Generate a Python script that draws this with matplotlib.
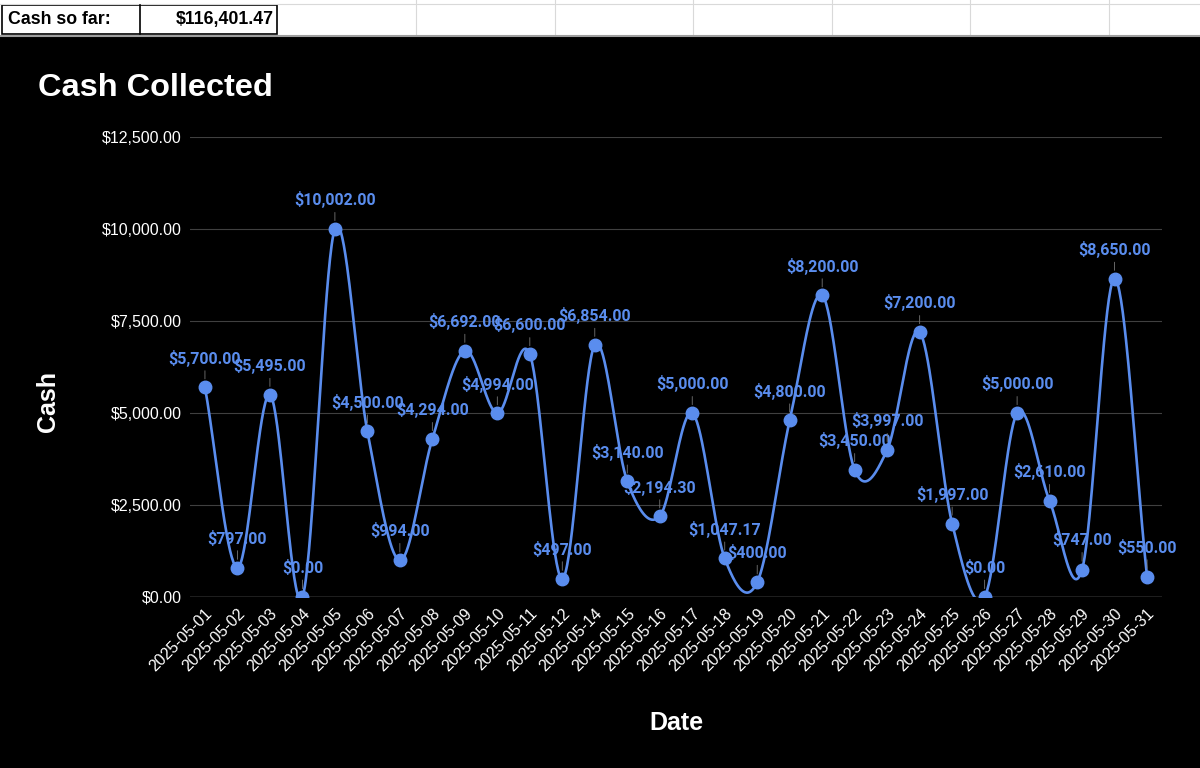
import numpy as np
import matplotlib
matplotlib.use("Agg")
import matplotlib.pyplot as plt
from matplotlib.patches import Rectangle
from matplotlib.lines import Line2D
import matplotlib.ticker as mticker
import matplotlib.transforms as mtransforms

plt.rcParams['font.family'] = ['Liberation Sans', 'DejaVu Sans']

dates = ["2025-05-01", "2025-05-02", "2025-05-03", "2025-05-04", "2025-05-05",
         "2025-05-06", "2025-05-07", "2025-05-08", "2025-05-09", "2025-05-10",
         "2025-05-11", "2025-05-12", "2025-05-14", "2025-05-15", "2025-05-16",
         "2025-05-17", "2025-05-18", "2025-05-19", "2025-05-20", "2025-05-21",
         "2025-05-22", "2025-05-23", "2025-05-24", "2025-05-25", "2025-05-26",
         "2025-05-27", "2025-05-28", "2025-05-29", "2025-05-30", "2025-05-31"]
cash = [5700.00, 797.00, 5495.00, 0.00, 10002.00,
        4500.00, 994.00, 4294.00, 6692.00, 4994.00,
        6600.00, 497.00, 6854.00, 3140.00, 2194.30,
        5000.00, 1047.17, 400.00, 4800.00, 8200.00,
        3450.00, 3997.00, 7200.00, 1997.00, 0.00,
        5000.00, 2610.00, 747.00, 8650.00, 550.00]
y_ticks = [0, 2500, 5000, 7500, 10000, 12500]
total_label = "$116,401.47"

BLUE = '#5a8dee'
W, H = 1200, 768


def smooth(y, n=40):
    # catmull-rom style curve through the points (like the sheets "smooth" line)
    y = np.asarray(y, dtype=float)
    x = np.arange(len(y), dtype=float)
    m = np.zeros_like(y)
    m[1:-1] = (y[2:] - y[:-2]) / 2
    m[0] = y[1] - y[0]
    m[-1] = y[-1] - y[-2]
    xs, ys = [], []
    for i in range(len(y) - 1):
        t = np.linspace(0, 1, n, endpoint=False)
        h00 = 2*t**3 - 3*t**2 + 1
        h10 = t**3 - 2*t**2 + t
        h01 = -2*t**3 + 3*t**2
        h11 = t**3 - t**2
        xs.append(x[i] + t)
        ys.append(h00*y[i] + h10*m[i] + h01*y[i+1] + h11*m[i+1])
    xs.append([x[-1]])
    ys.append([y[-1]])
    return np.concatenate(xs), np.concatenate(ys)


fig = plt.figure(figsize=(12, 7.68), dpi=100, facecolor='black')

# spreadsheet strip on top
fig.patches.append(Rectangle((0, 1 - 35/H), 1, 35/H, transform=fig.transFigure,
                             facecolor='white', edgecolor='none', zorder=0))
fig.lines.append(Line2D([0, 1], [1 - 4/H, 1 - 4/H], transform=fig.transFigure,
                        color='#d9d9d9', lw=0.8))
for px in [416, 555, 693, 832, 970, 1109]:
    fig.lines.append(Line2D([px/W, px/W], [1 - 35/H, 1], transform=fig.transFigure,
                            color='#d9d9d9', lw=0.8))
fig.patches.append(Rectangle((2/W, 1 - 34/H), 275/W, 29/H, transform=fig.transFigure,
                             facecolor='none', edgecolor='black', lw=1.2))
fig.lines.append(Line2D([140/W, 140/W], [1 - 34/H, 1 - 5/H], transform=fig.transFigure,
                        color='black', lw=1.2))
fig.lines.append(Line2D([0, 1], [1 - 35.5/H, 1 - 35.5/H], transform=fig.transFigure,
                        color='#9e9e9e', lw=1.5))
fig.text(8/W, 1 - 19.5/H, "Cash so far:", fontsize=12.8, fontweight='bold',
         color='black', ha='left', va='center')
fig.text(274/W, 1 - 19.5/H, total_label, fontsize=12.8, fontweight='bold',
         color='black', ha='right', va='center')

ax = fig.add_axes([190/W, 1 - 597/H, (1162 - 190)/W, (597 - 137)/H])
ax.set_facecolor('black')
x = np.arange(len(cash))
xs, ys = smooth(cash)
ax.plot(xs, ys, color=BLUE, lw=1.9, zorder=3)
ax.plot(x, cash, 'o', color=BLUE, ms=9, zorder=4)

for i, v in enumerate(cash):
    ax.annotate(f"${v:,.2f}", (i, v), xytext=(0, 21), textcoords='offset points',
                ha='center', va='center', color=BLUE, fontsize=11.5,
                fontweight='bold', family=['Roboto', 'DejaVu Sans'], zorder=5,
                arrowprops=dict(arrowstyle='-', color='#777777', lw=0.6,
                                relpos=(0.5, 0), shrinkA=1, shrinkB=6))

ax.set_xlim(-0.46, len(cash) - 1 + 0.46)
ax.set_ylim(0, 12500)
for t in y_ticks:
    ax.axhline(t, color='#9a9a9a' if t == 0 else '#404040', lw=1.0 if t == 0 else 0.8,
               zorder=1)
ax.set_yticks(y_ticks)
ax.yaxis.set_major_formatter(mticker.FuncFormatter(lambda v, p: f"${v:,.2f}"))
ax.set_xticks(x)
ax.set_xticklabels(dates, rotation=45, ha='right', va='center', rotation_mode='anchor')
ax.tick_params(axis='both', length=0, colors='white', labelsize=11.5)
ax.tick_params(axis='x', pad=10)
ax.tick_params(axis='y', pad=6)
shift = mtransforms.ScaledTranslation(5/100, 0, fig.dpi_scale_trans)
for lab in ax.get_xticklabels():
    lab.set_transform(lab.get_transform() + shift)
for s in ax.spines.values():
    s.set_visible(False)

fig.text(38/W, 1 - 88/H, "Cash Collected", fontsize=23.4, fontweight='bold',
         color='white', ha='left', va='center')
fig.text(48/W, 1 - 401/H, "Cash", fontsize=18, fontweight='bold', color='white',
         ha='center', va='center', rotation=90)
fig.text(676/W, 1 - 723/H, "Date", fontsize=18, fontweight='bold', color='white',
         ha='center', va='center')

fig.savefig("out.png", dpi=100, facecolor='black')
